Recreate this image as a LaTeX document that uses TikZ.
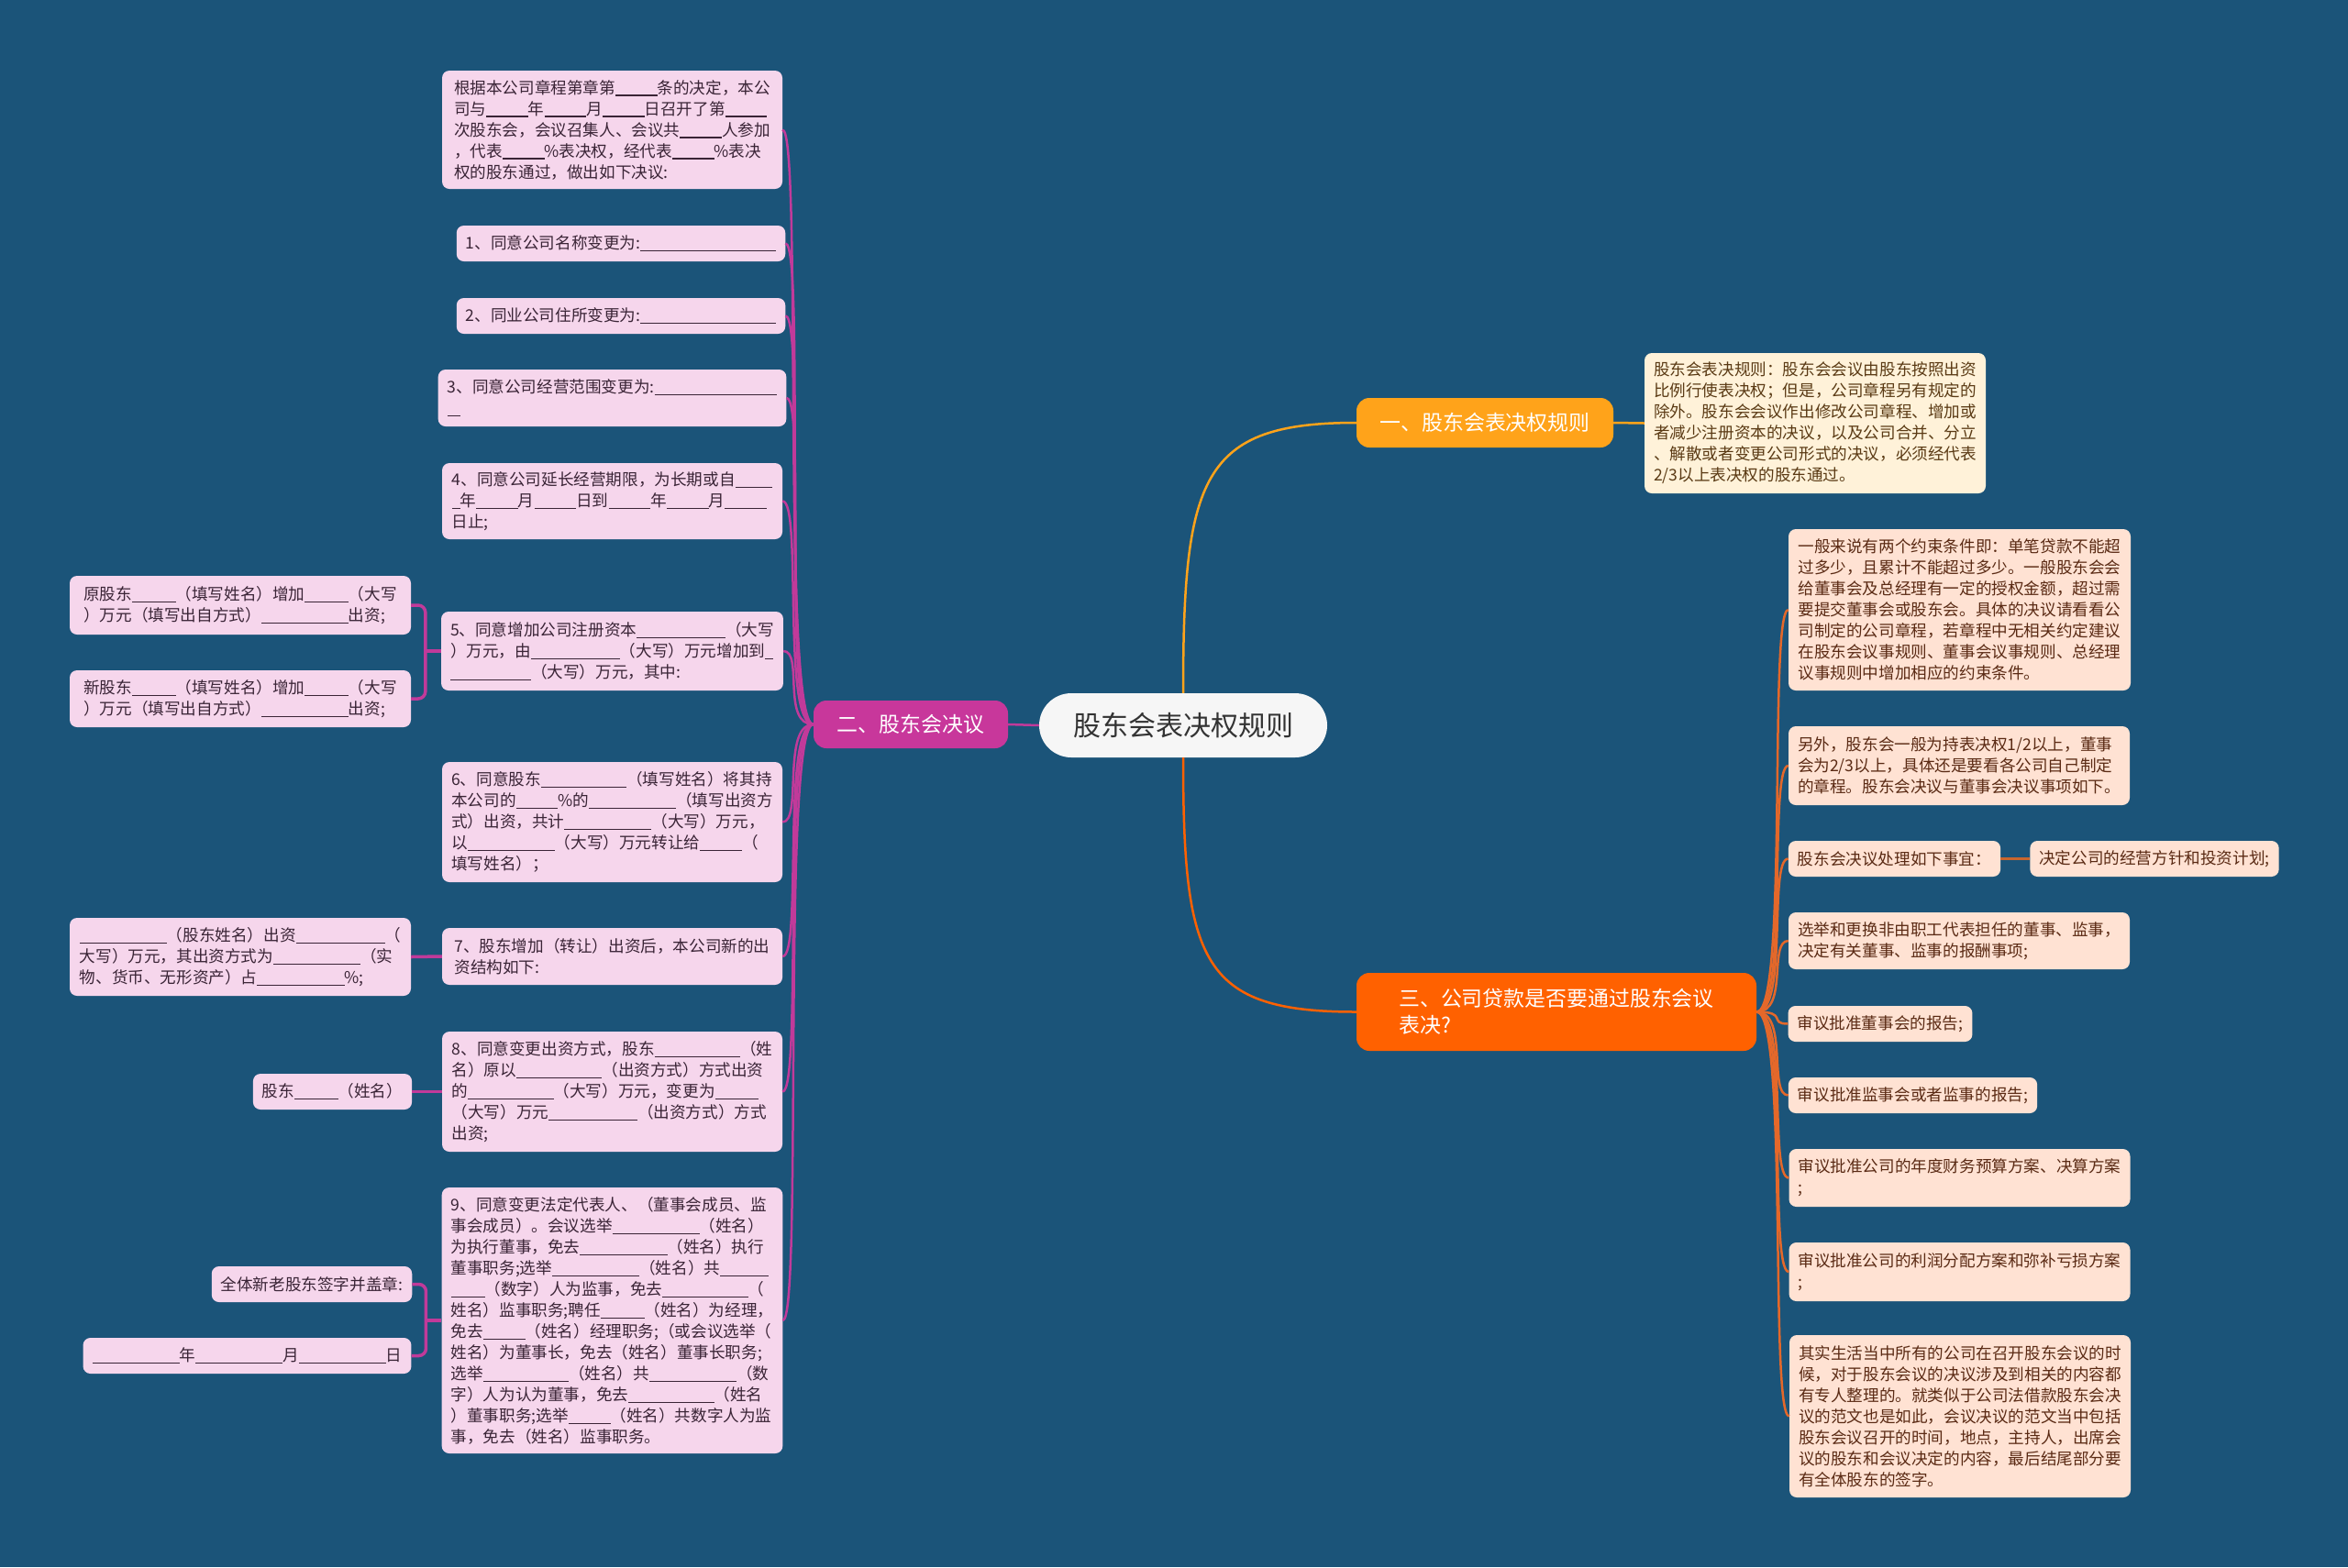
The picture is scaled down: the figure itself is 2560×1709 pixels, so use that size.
\documentclass[tikz,border=0pt]{standalone}
\usepackage{fontspec}
\setmainfont{Noto Sans CJK SC}
\definecolor{bgblue}{HTML}{1B5479}
\definecolor{rootfill}{HTML}{F6F6F6}
\definecolor{orgA}{HTML}{FFA31A}
\definecolor{magB}{HTML}{C8379B}
\definecolor{redC}{HTML}{FF6100}
\definecolor{creamA}{HTML}{FFF2D9}
\definecolor{pinkB}{HTML}{F6D6EC}
\definecolor{peachC}{HTML}{FFE2D3}
\definecolor{txtA}{HTML}{5A3A14}
\definecolor{txtB}{HTML}{3A2436}
\definecolor{txtC}{HTML}{5A2A14}
\definecolor{lineB}{HTML}{C13A9A}
\definecolor{lineC}{HTML}{E4682A}
\definecolor{subC}{HTML}{C8662E}
\newcommand\fillgap[1]{\rule[-0.14em]{#1em}{0.06em}}

\begin{document}
\begin{tikzpicture}[x=1pt,y=-1pt,
  leaf/.style={rounded corners=8pt,align=left,inner xsep=10pt,inner ysep=3pt,font=\fontsize{17.6}{23}\selectfont},
  leafA/.style={leaf,fill=creamA,text=txtA},
  leafB/.style={leaf,fill=pinkB,text=txtB},
  leafC/.style={leaf,fill=peachC,text=txtC},
  branch/.style={rounded corners=14pt,align=left,inner sep=0pt,text=white,font=\fontsize{22.9}{29}\selectfont},
  linkA/.style={draw=orgA,line width=2.5pt},
  linkB/.style={draw=lineB,line width=2.5pt},
  linkC/.style={draw=lineC,line width=2.5pt},
  linkR/.style={draw=redC,line width=2.5pt},
  subB/.style={draw=lineB,line width=3.5pt,rounded corners=8pt},
  subline/.style={draw=subC,line width=3.5pt}]
\fill[bgblue] (0,0) rectangle (2560,1709);
\useasboundingbox (0,0) rectangle (2560,1709);

\node[fill=rootfill,rounded corners=35pt,minimum width=314pt,minimum height=70pt,text=black!80,font=\fontsize{30}{36}\selectfont] (root) at (1290,791) {股东会表决权规则};
\node[branch,fill=orgA,minimum width=280pt,minimum height=54pt] (b1) at (1619,461) {一、股东会表决权规则};
\node[branch,fill=magB,minimum width=212pt,minimum height=52pt] (b2) at (993,790) {二、股东会决议};
\node[branch,fill=redC,minimum width=436pt,minimum height=85pt] (b3) at (1697,1103.5) {三、公司贷款是否要通过股东会议\\表决?};

\node[leafA,minimum width=372pt,minimum height=153pt] (y1) at (1979,461.5) {股东会表决规则：股东会会议由股东按照出资\\比例行使表决权；但是，公司章程另有规定的\\除外。股东会会议作出修改公司章程、增加或\\者减少注册资本的决议，以及公司合并、分立\\、解散或者变更公司形式的决议，必须经代表\\2/3以上表决权的股东通过。};

\node[leafB,minimum width=371pt,minimum height=129pt] (L0) at (667.5,141.5) {根据本公司章程第章第\fillgap{2.6}条的决定，本公\\司与\fillgap{2.6}年\fillgap{2.6}月\fillgap{2.6}日召开了第\fillgap{2.6}\\次股东会，会议召集人、会议共\fillgap{2.6}人参加\\，代表\fillgap{2.6}\%表决权，经代表\fillgap{2.6}\%表决\\权的股东通过，做出如下决议:};
\node[leafB,minimum width=352pt,minimum height=39pt] (L1) at (677,265.5) {1、同意公司名称变更为:\fillgap{8.4}};
\node[leafB,minimum width=352pt,minimum height=39pt] (L2) at (677,344.5) {2、同业公司住所变更为:\fillgap{8.4}};
\node[leafB,minimum width=371pt,minimum height=62pt] (L3) at (667.5,434) {3、同意公司经营范围变更为:\fillgap{7.6}\\\fillgap{0.8}};
\node[leafB,minimum width=371pt,minimum height=83pt] (L4) at (667.5,546.5) {4、同意公司延长经营期限，为长期或自\fillgap{2.3}\\\fillgap{0.5}年\fillgap{2.6}月\fillgap{2.6}日到\fillgap{2.6}年\fillgap{2.6}月\fillgap{2.6}\\日止;};
\node[leafB,minimum width=371pt,minimum height=86pt] (L5) at (667.5,710) {5、同意增加公司注册资本\fillgap{5.5}（大写\\）万元，由\fillgap{5.5}（大写）万元增加到\fillgap{0.5}\\\fillgap{5}（大写）万元，其中:};
\node[leafB,minimum width=371pt,minimum height=131pt] (L6) at (667.5,896.5) {6、同意股东\fillgap{5.3}（填写姓名）将其持\\本公司的\fillgap{2.6}\%的\fillgap{5.4}（填写出资方\\式）出资，共计\fillgap{5.4}（大写）万元，\\以\fillgap{5.4}（大写）万元转让给\fillgap{2.6}（\\填写姓名）；};
\node[leafB,minimum width=371pt,minimum height=62pt] (L7) at (667.5,1043) {7、股东增加（转让）出资后，本公司新的出\\资结构如下:};
\node[leafB,minimum width=371pt,minimum height=131pt] (L8) at (667.5,1190.5) {8、同意变更出资方式，股东\fillgap{5.3}（姓\\名）原以\fillgap{5.3}（出资方式）方式出资\\的\fillgap{5.3}（大写）万元，变更为\fillgap{2.7}\\（大写）万元\fillgap{5.5}（出资方式）方式\\出资;};
\node[leafB,minimum width=371pt,minimum height=290pt] (L9) at (667.5,1440) {9、同意变更法定代表人、（董事会成员、监\\事会成员）。会议选举\fillgap{5.4}（姓名）\\为执行董事，免去\fillgap{5.4}（姓名）执行\\董事职务;选举\fillgap{5.4}（姓名）共\fillgap{3}\\\fillgap{2.1}（数字）人为监事，免去\fillgap{5.3}（\\姓名）监事职务;聘任\fillgap{2.7}（姓名）为经理，\\免去\fillgap{2.6}（姓名）经理职务;（或会议选举（\\姓名）为董事长，免去（姓名）董事长职务;\\选举\fillgap{5.3}（姓名）共\fillgap{5.4}（数\\字）人为认为董事，免去\fillgap{5.3}（姓名\\）董事职务;选举\fillgap{2.6}（姓名）共数字人为监\\事，免去（姓名）监事职务。};

\node[leafB,minimum width=372pt,minimum height=64pt] (s5a) at (262,660) {原股东\fillgap{2.7}（填写姓名）增加\fillgap{2.7}（大写\\）万元（填写出自方式）\fillgap{5.4}出资;};
\node[leafB,minimum width=372pt,minimum height=62pt] (s5b) at (262,762) {新股东\fillgap{2.7}（填写姓名）增加\fillgap{2.7}（大写\\）万元（填写出自方式）\fillgap{5.4}出资;};
\node[leafB,minimum width=372pt,minimum height=85pt] (s7) at (262,1043.5) {\fillgap{5.4}（股东姓名）出资\fillgap{5.5}（\\大写）万元，其出资方式为\fillgap{5.4}（实\\物、货币、无形资产）占\fillgap{5.4}\%;};
\node[leafB,minimum width=171pt,minimum height=39pt] (s8) at (362.5,1190.5) {股东\fillgap{2.7}（姓名）};
\node[leafB,minimum width=216pt,minimum height=39pt] (s9a) at (340,1400.5) {全体新老股东签字并盖章:};
\node[leafB,minimum width=357pt,minimum height=39pt] (s9b) at (269.5,1478.5) {\fillgap{5.4}年\fillgap{5.4}月\fillgap{5.4}日};

\node[leafC,minimum width=373pt,minimum height=176pt] (C1) at (2136.5,665) {一般来说有两个约束条件即：单笔贷款不能超\\过多少，且累计不能超过多少。一般股东会会\\给董事会及总经理有一定的授权金额，超过需\\要提交董事会或股东会。具体的决议请看看公\\司制定的公司章程，若章程中无相关约定建议\\在股东会议事规则、董事会议事规则、总经理\\议事规则中增加相应的约束条件。};
\node[leafC,minimum width=372pt,minimum height=86pt] (C2) at (2136,835) {另外，股东会一般为持表决权1/2以上，董事\\会为2/3以上，具体还是要看各公司自己制定\\的章程。股东会决议与董事会决议事项如下。};
\node[leafC,minimum width=231pt,minimum height=39pt] (C3) at (2065.5,936.5) {股东会决议处理如下事宜：};
\node[leafC,minimum width=270pt,minimum height=39pt] (C3a) at (2349,936.5) {决定公司的经营方针和投资计划;};
\node[leafC,minimum width=372pt,minimum height=62pt] (C4) at (2136,1026) {选举和更换非由职工代表担任的董事、监事，\\决定有关董事、监事的报酬事项;};
\node[leafC,minimum width=198pt,minimum height=39pt] (C5) at (2050,1116.5) {审议批准董事会的报告;};
\node[leafC,minimum width=269pt,minimum height=39pt] (C6) at (2085.5,1194.5) {审议批准监事会或者监事的报告;};
\node[leafC,minimum width=371pt,minimum height=63pt] (C7) at (2136.5,1284.5) {审议批准公司的年度财务预算方案、决算方案\\;};
\node[leafC,minimum width=371pt,minimum height=64pt] (C8) at (2136.5,1387) {审议批准公司的利润分配方案和弥补亏损方案\\;};
\node[leafC,minimum width=372pt,minimum height=177pt] (C9) at (2137,1544.5) {其实生活当中所有的公司在召开股东会议的时\\候，对于股东会议的决议涉及到相关的内容都\\有专人整理的。就类似于公司法借款股东会决\\议的范文也是如此，会议决议的范文当中包括\\股东会议召开的时间，地点，主持人，出席会\\议的股东和会议决定的内容，最后结尾部分要\\有全体股东的签字。};

\draw[linkA] (root.north) .. controls +(0,-236) and +(-169,0) .. (b1.west);
\draw[linkR] (root.south) .. controls +(0,224) and +(-169,0) .. (b3.west);
\draw[linkB] (root.west) -- (b2.east);
\draw[linkA] (b1.east) -- (y1.west);
\foreach \c in {C1,C2,C3,C4,C5,C6,C7,C8,C9}
  \draw[linkC] (b3.east) .. controls +(35,0) and +(-22,0) .. (\c.west);
\draw[subline] (C3.east) -- (C3a.west);
\foreach \c in {L0,L1,L2,L3,L4,L5,L6,L7,L8,L9}
  \draw[linkB] (b2.west) .. controls +(-35,0) and +(22,0) .. (\c.east);
\coordinate (j5) at ([xshift=-17pt]L5.west);
\coordinate (j9) at ([xshift=-17pt]L9.west);
\draw[subB] (L5.west) -- (j5);
\draw[subB] (j5) |- (s5a.east);
\draw[subB] (j5) |- (s5b.east);
\draw[subB] (L7.west) -- (s7.east);
\draw[subB] (L8.west) -- (s8.east);
\draw[subB] (L9.west) -- (j9);
\draw[subB] (j9) |- (s9a.east);
\draw[subB] (j9) |- (s9b.east);
\end{tikzpicture}
\end{document}
